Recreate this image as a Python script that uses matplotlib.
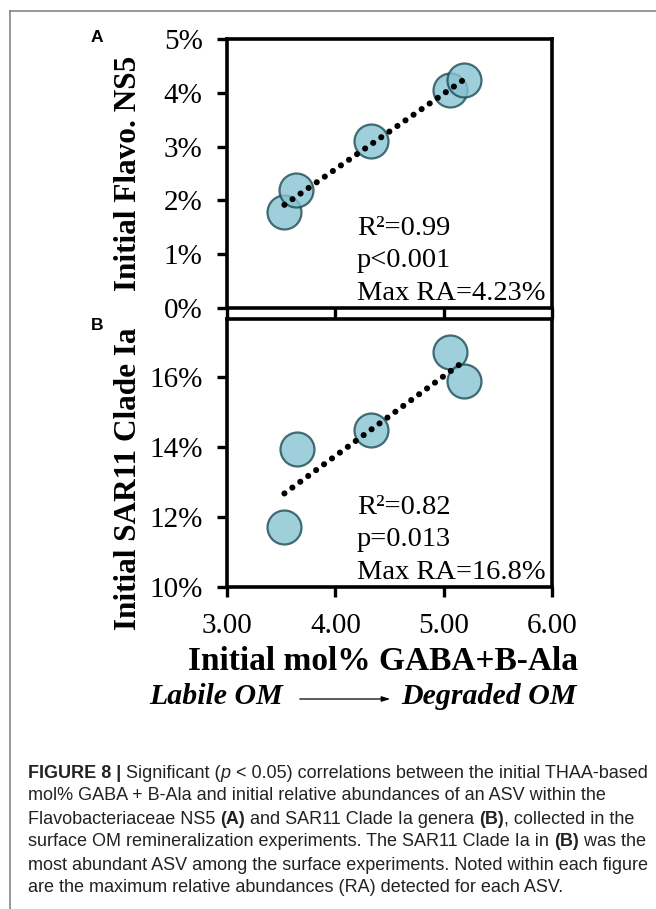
import numpy as np
import matplotlib
matplotlib.use("Agg")
import matplotlib.pyplot as plt
from matplotlib.lines import Line2D
from matplotlib.patches import FancyArrowPatch

W, H = 656, 909

# initial mol% GABA+B-Ala (x) vs initial relative abundance (%)
gaba_a = [3.53, 3.64, 4.33, 5.06, 5.19]
ns5_a = [1.78, 2.19, 3.10, 4.05, 4.23]
gaba_b = [3.53, 3.65, 4.33, 5.06, 5.19]
sar11_b = [11.70, 13.95, 14.48, 16.70, 15.88]

x_ticks = [3, 4, 5, 6]
x_labels = ["3.00", "4.00", "5.00", "6.00"]
a_ticks = [0, 1, 2, 3, 4, 5]
b_ticks = [10, 12, 14, 16]

stats_a = ["R²=0.99", "p<0.001", "Max RA=4.23%"]
stats_b = ["R²=0.82", "p=0.013", "Max RA=16.8%"]

caption = [
    [("FIGURE 8 |", "bold"), (" Significant (", "normal"), ("p", "italic"),
     (" < 0.05) correlations between the initial THAA-based", "normal")],
    [("mol% GABA + B-Ala and initial relative abundances of an ASV within the", "normal")],
    [("Flavobacteriaceae NS5 ", "normal"), ("(A)", "bold"),
     (" and SAR11 Clade Ia genera ", "normal"), ("(B)", "bold"), (", collected in the", "normal")],
    [("surface OM remineralization experiments. The SAR11 Clade Ia in ", "normal"),
     ("(B)", "bold"), (" was the", "normal")],
    [("most abundant ASV among the surface experiments. Noted within each figure", "normal")],
    [("are the maximum relative abundances (RA) detected for each ASV.", "normal")],
]

serif = "Liberation Serif"
face = "#87c3d1"
edge = "#1b4c55"

fig = plt.figure(figsize=(W / 100, H / 100), dpi=100)

axA = fig.add_axes([227 / W, 1 - 308 / H, 325 / W, 269 / H])
axB = fig.add_axes([227 / W, 1 - 587 / H, 325 / W, 268 / H])


def style(ax, x, y, yticks, ylim, stats, show_x):
    ax.scatter(x, y, s=33 ** 2 * 0.55, facecolor=face, edgecolor=edge,
               linewidth=1.6, alpha=0.8, zorder=3)
    k, b = np.polyfit(x, y, 1)
    xs = np.array([min(x), max(x)])
    ax.plot(xs, k * xs + b, color="black", lw=4.4, dash_capstyle="round",
            linestyle=(0, (0.01, 1.6)), zorder=4)
    ax.set_xlim(3, 6)
    ax.set_ylim(*ylim)
    ax.set_xticks(x_ticks)
    ax.set_yticks(yticks)
    ax.set_yticklabels([f"{t}%" for t in yticks])
    if show_x:
        ax.set_xticklabels(x_labels)
    else:
        ax.set_xticklabels([])
    for s in ax.spines.values():
        s.set_linewidth(2.6)
    ax.tick_params(direction="out", length=7.5, width=2.4, pad=10,
                   labelsize=21)
    ax.tick_params(axis="x", pad=11)
    for lab in ax.get_xticklabels() + ax.get_yticklabels():
        lab.set_fontfamily(serif)
    for i, t in enumerate(stats):
        ax.text(0.4, 0.297 - i * 0.121, t, transform=ax.transAxes,
                fontsize=20.5, family=serif, va="center", ha="left")


style(axA, gaba_a, ns5_a, a_ticks, (0, 5), stats_a, False)
style(axB, gaba_b, sar11_b, b_ticks, (10, 17.65), stats_b, True)

fig.text(128 / W, 1 - 173 / H, "Initial Flavo. NS5", rotation=90,
         ha="center", va="center", family=serif, weight="bold", fontsize=22.5)
fig.text(128 / W, 1 - 479 / H, "Initial SAR11 Clade Ia", rotation=90,
         ha="center", va="center", family=serif, weight="bold", fontsize=22.5)
fig.text(383 / W, 1 - 662 / H, "Initial mol% GABA+B-Ala",
         ha="center", va="center", family=serif, weight="bold", fontsize=24)
fig.text(283 / W, 1 - 697 / H, "Labile OM", ha="right", va="center",
         family=serif, weight="bold", style="italic", fontsize=21.5)
fig.text(577 / W, 1 - 697 / H, "Degraded OM", ha="right", va="center",
         family=serif, weight="bold", style="italic", fontsize=21.5)
fig.add_artist(FancyArrowPatch((297 / W, 1 - 699 / H), (393 / W, 1 - 699 / H),
                               transform=fig.transFigure,
                               arrowstyle="-|>,head_length=5,head_width=1.6",
                               lw=0.9, color="black"))

fig.text(97 / W, 1 - 38 / H, "A", ha="center", va="center",
         family="Liberation Sans", weight="bold", fontsize=12.5)
fig.text(97 / W, 1 - 325 / H, "B", ha="center", va="center",
         family="Liberation Sans", weight="bold", fontsize=12.5)

# outer frame (top and left only)
fig.add_artist(Line2D([10 / W, 10 / W], [0, 1 - 11 / H], color="#7a7a7a",
                      lw=1.1, transform=fig.transFigure))
fig.add_artist(Line2D([10 / W, 1], [1 - 11 / H, 1 - 11 / H], color="#7a7a7a",
                      lw=1.1, transform=fig.transFigure))

# caption, drawn run by run
fig.canvas.draw()
renderer = fig.canvas.get_renderer()
cap_font = "Liberation Sans"
cap_color = "#222222"


def run_width(txt, size, weight, fstyle):
    t = fig.text(0, 0, "|" + txt + "|", fontsize=size, family=cap_font,
                 weight=weight, style=fstyle)
    t2 = fig.text(0, 0, "||", fontsize=size, family=cap_font,
                  weight=weight, style=fstyle)
    w = t.get_window_extent(renderer).width - t2.get_window_extent(renderer).width
    t.remove()
    t2.remove()
    return w


def kw(kind):
    if kind == "bold":
        return "bold", "normal"
    if kind == "italic":
        return "normal", "italic"
    return "normal", "normal"


# pick size so the first line spans about 622 px
total = sum(run_width(t, 10, *kw(k)) for t, k in caption[0])
cap_size = 10 * 622 / total

for i, line in enumerate(caption):
    y = 1 - (773 + i * 23) / H
    x = 28.0
    for txt, kind in line:
        weight, fstyle = kw(kind)
        fig.text(x / W, y, txt, fontsize=cap_size, family=cap_font,
                 weight=weight, style=fstyle, color=cap_color, va="center")
        x += run_width(txt, cap_size, weight, fstyle)

fig.savefig("out.png", dpi=100)
